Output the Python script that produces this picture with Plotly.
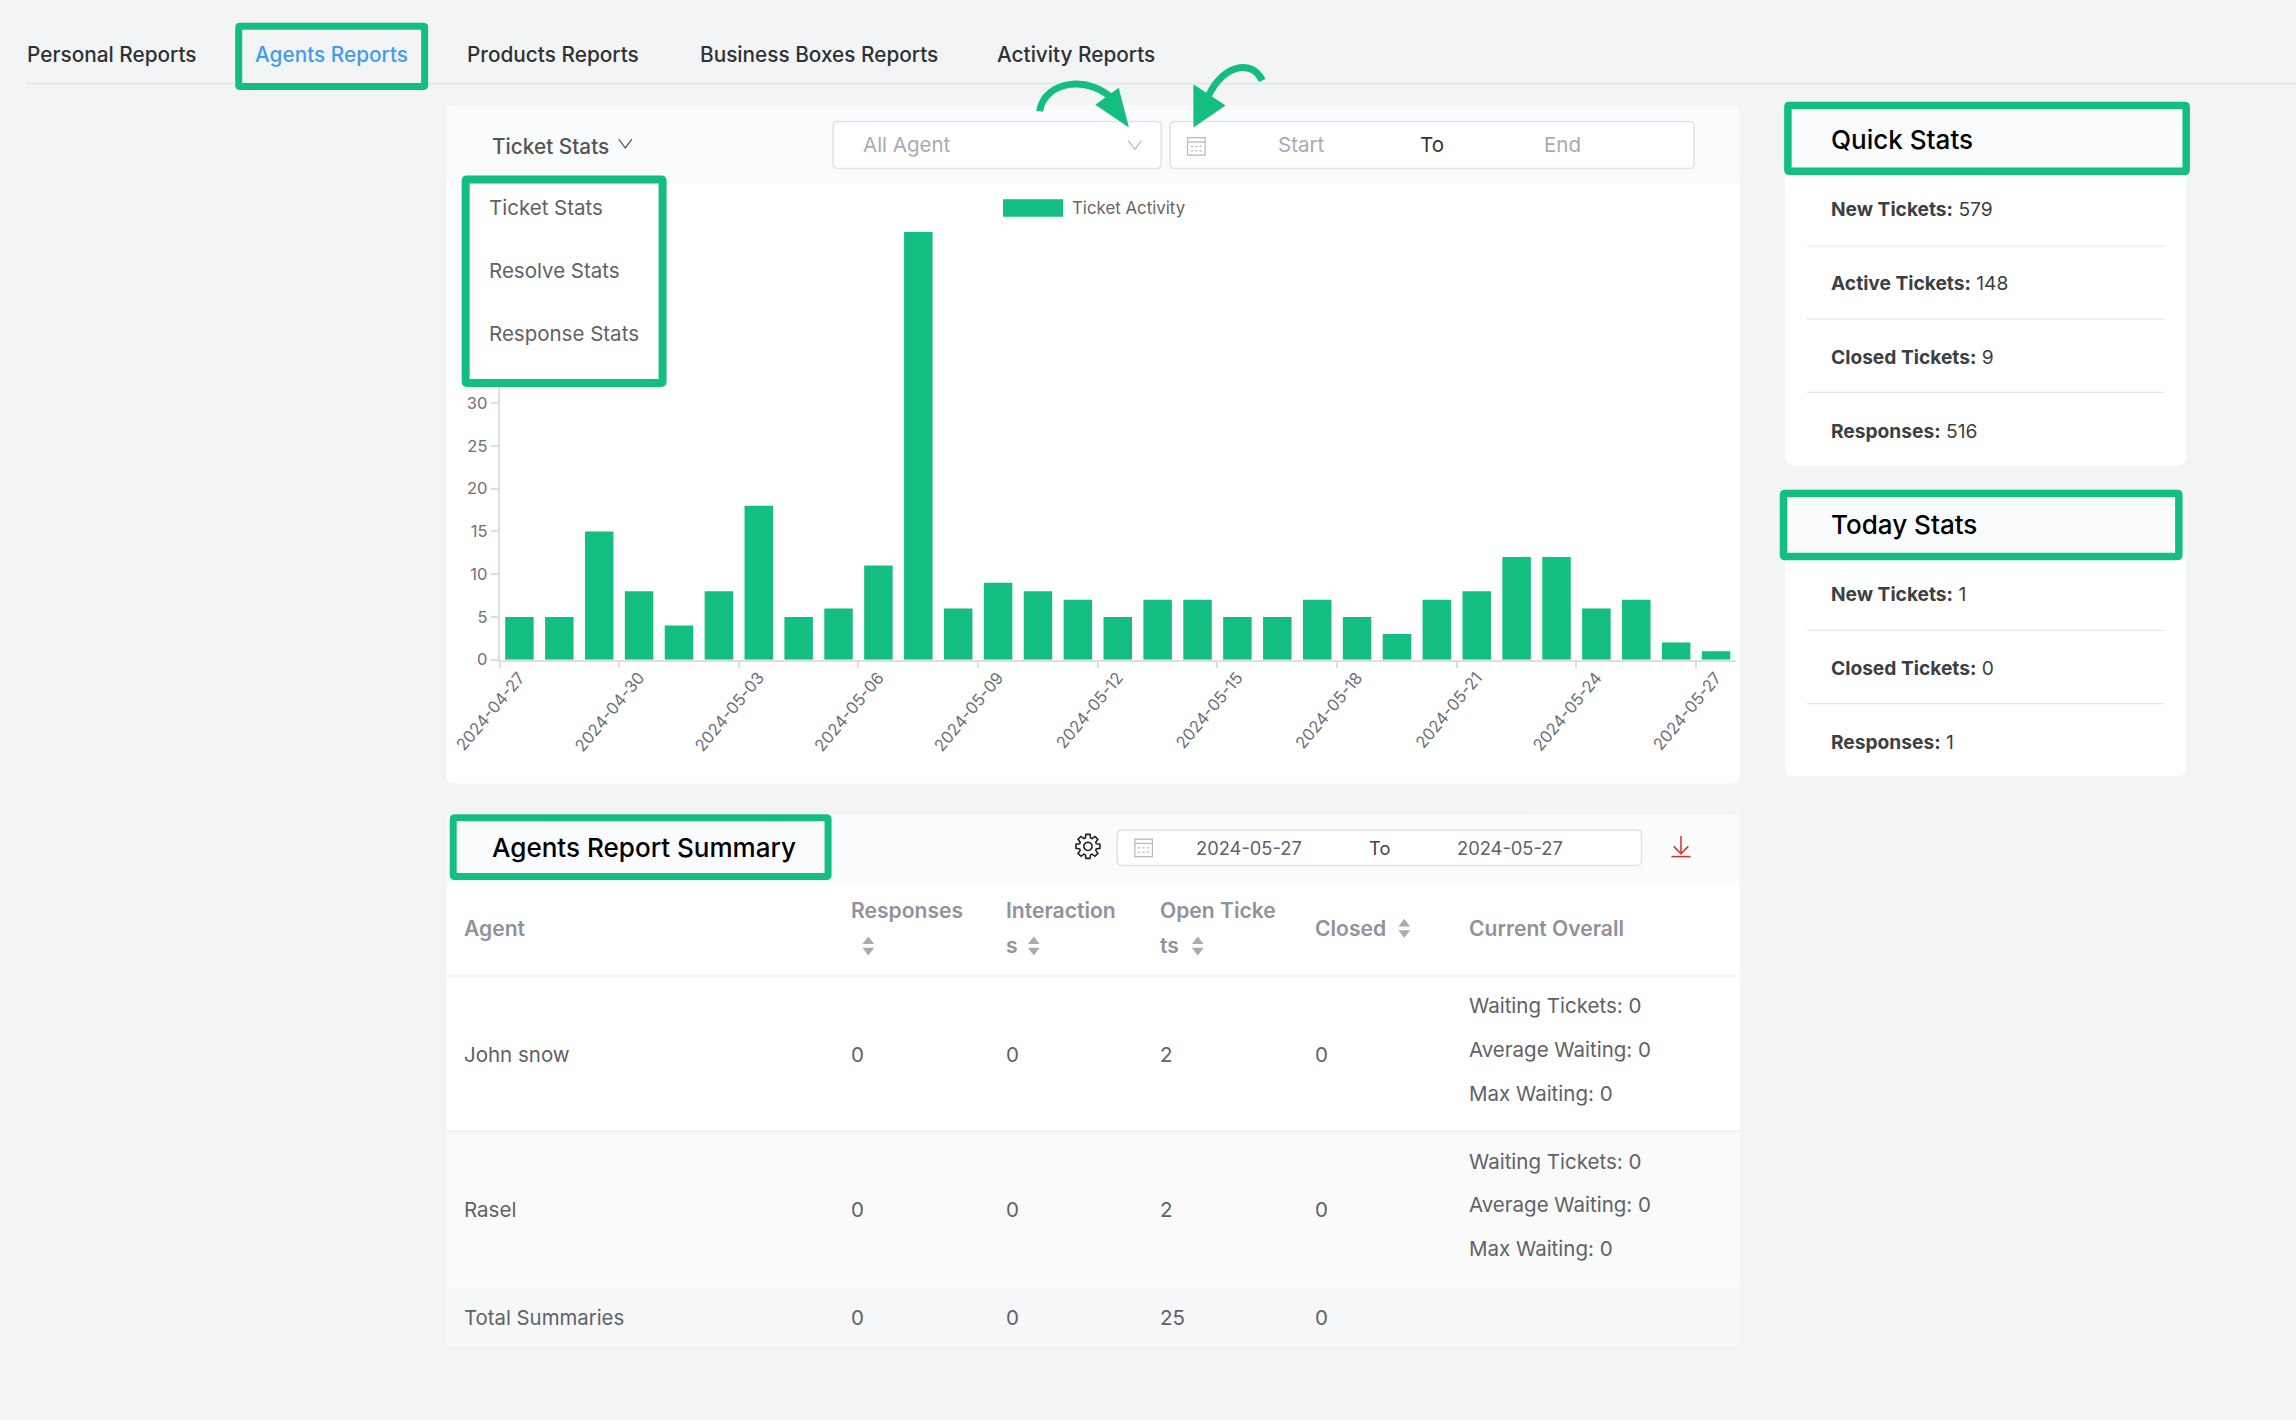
import math
import plotly.graph_objects as go

W, H = 2296, 1420
# layout below is measured on the 1568 wide view of the screenshot
S = W / 1568

GREEN = '#14bd80'
PAGE = '#f2f4f6'
HEAD = '#fafbfc'
TEXT = '#606266'
DARK = '#2f3133'
GREY = '#909399'
LINE = '#e6e8eb'
FONT = 'Inter'

# Data
dates = ['2024-04-27', '2024-04-28', '2024-04-29', '2024-04-30', '2024-05-01', '2024-05-02',
         '2024-05-03', '2024-05-04', '2024-05-05', '2024-05-06', '2024-05-07', '2024-05-08',
         '2024-05-09', '2024-05-10', '2024-05-11', '2024-05-12', '2024-05-13', '2024-05-14',
         '2024-05-15', '2024-05-16', '2024-05-17', '2024-05-18', '2024-05-19', '2024-05-20',
         '2024-05-21', '2024-05-22', '2024-05-23', '2024-05-24', '2024-05-25', '2024-05-26',
         '2024-05-27']
ticket_activity = [5, 5, 15, 8, 4, 8, 18, 5, 6, 11, 50, 6, 9, 8, 7, 5, 7, 7, 5, 5, 7, 5, 3, 7, 8,
                   12, 12, 6, 7, 2, 1]

tabs = ['Personal Reports', 'Agents Reports', 'Products Reports', 'Business Boxes Reports', 'Activity Reports']
stat_menu = ['Ticket Stats', 'Resolve Stats', 'Response Stats']
quick_labels = ['New Tickets:', 'Active Tickets:', 'Closed Tickets:', 'Responses:']
quick_values = [579, 148, 9, 516]
today_labels = ['New Tickets:', 'Closed Tickets:', 'Responses:']
today_values = [1, 0, 1]

agents = ['John snow', 'Rasel']
responses = [0, 0]
interactions = [0, 0]
open_tickets = [2, 2]
closed = [0, 0]
waiting = [0, 0]
average_waiting = [0, 0]
max_waiting = [0, 0]
totals = [0, 0, 25, 0]

shapes = []
annotations = []


def px(x):
    return x / 1568


def py(y):
    return 1 - y * S / H


def path(points, close=False):
    d = 'M' + ' L'.join(f'{px(x):.5f},{py(y):.5f}' for x, y in points)
    return d + (' Z' if close else '')


def box(x0, y0, x1, y1, fill=None, line=None, width=1, r=0, layer='below'):
    if r:
        rx, ry = r / 1568, r * S / H
        a, b, c, d = px(x0), py(y0), px(x1), py(y1)
        p = (f'M{a + rx},{b} L{c - rx},{b} Q{c},{b} {c},{b - ry} L{c},{d + ry} Q{c},{d} {c - rx},{d} '
             f'L{a + rx},{d} Q{a},{d} {a},{d + ry} L{a},{b - ry} Q{a},{b} {a + rx},{b} Z')
    else:
        p = path([(x0, y0), (x1, y0), (x1, y1), (x0, y1)], True)
    shapes.append(dict(type='path', xref='paper', yref='paper', path=p, layer=layer,
                       fillcolor=fill or 'rgba(0,0,0,0)',
                       line=dict(color=line or 'rgba(0,0,0,0)', width=width if line else 0)))


def stroke(points, color, width=1.5, layer='above'):
    shapes.append(dict(type='path', xref='paper', yref='paper', path=path(points), layer=layer,
                       line=dict(color=color, width=width)))


def curve(p0, c1, c2, p1, color, width):
    a, b, c, d = [f'{px(x):.5f},{py(y):.5f}' for x, y in (p0, c1, c2, p1)]
    shapes.append(dict(type='path', xref='paper', yref='paper', path=f'M{a} C{b} {c} {d}', layer='above',
                       line=dict(color=color, width=width)))


def solid(points, color):
    shapes.append(dict(type='path', xref='paper', yref='paper', path=path(points, True), layer='above',
                       fillcolor=color, line=dict(color=color, width=0)))


def label(x, y, text, size=13.5, color=TEXT, anchor='left', weight=400):
    # left aligned annotations sit a little to the right of the given x
    if anchor == 'left':
        x -= 0.5
    annotations.append(dict(xref='paper', yref='paper', x=px(x), y=py(y), text=text, showarrow=False,
                            xanchor=anchor, yanchor='middle', borderpad=0,
                            font=dict(family=FONT, size=size * S, color=color, weight=weight)))


def chevron(x, y, color='#b5b8bd', w=4.5, h=3):
    stroke([(x - w, y - h), (x, y + h), (x + w, y - h)], color, 1.2)


def calendar(x, y, color='#b5b8bd'):
    box(x - 6, y - 6, x + 6, y + 6, line=color, width=1.2, layer='above')
    stroke([(x - 6, y - 3), (x + 6, y - 3)], color, 1.2)
    for dx in (-3, 0, 3):
        stroke([(dx + x - 0.8, y), (dx + x + 0.8, y)], color, 1.2)
        stroke([(dx + x - 0.8, y + 3), (dx + x + 0.8, y + 3)], color, 1.2)


def sorter(x, y):
    solid([(x - 4, y - 1.3), (x + 4, y - 1.3), (x, y - 6.5)], '#a8abb2')
    solid([(x - 4, y + 1.3), (x + 4, y + 1.3), (x, y + 6.5)], '#a8abb2')


def gear(x, y):
    pts = []
    for i in range(8):
        a = i * math.pi / 4
        for da, r in ((-0.3, 6), (-0.17, 8.3), (0.17, 8.3), (0.3, 6)):
            pts.append((x + r * math.cos(a + da), y + r * math.sin(a + da)))
    pts.append(pts[0])
    stroke(pts, '#222222', 1.6)
    circle = [(x + 2.8 * math.cos(i * math.pi / 10), y + 2.8 * math.sin(i * math.pi / 10)) for i in range(21)]
    stroke(circle, '#222222', 1.6)


# Tabs
stroke([(18, 57), (1568, 57)], '#e3e5e8', 1.5, 'below')
for x, t in zip([18, 174, 319, 478, 681], tabs):
    label(x, 37, t, 14.2, '#3f9cf0' if t == 'Agents Reports' else DARK, weight=500)
box(163, 18, 290, 59, line=GREEN, width=7, r=1, layer='above')

# Chart card
box(305, 72, 1188, 535, fill='#ffffff', r=4)
box(305, 72, 1188, 126, fill=HEAD, r=4)
label(336, 100, 'Ticket Stats', 14.2, '#555555', weight=500)
chevron(427, 98, '#555555', 4.5, 3)
box(569, 83, 793, 115, fill='#ffffff', line='#e0e2e6', width=1.5, r=3)
label(589, 99, 'All Agent', 14, '#a8abb2')
chevron(775, 99)
box(799, 83, 1157, 115, fill='#ffffff', line='#e0e2e6', width=1.5, r=3)
calendar(817, 100)
label(889, 99, 'Start', 14, '#a8abb2', 'center')
label(978, 99, 'To', 14, '#333333', 'center')
label(1067, 99, 'End', 14, '#a8abb2', 'center')

# Legend of the chart
box(685, 136, 726, 148, fill=GREEN)
label(732, 142, 'Ticket Activity', 11.5, '#666666')

# Dropdown over the top of the y axis
box(318, 122.5, 452.5, 261.5, fill='#ffffff', line=GREEN, width=8, r=1, layer='above')
for y, t in zip([142, 185, 228], stat_menu):
    label(334, y, t, 14, TEXT)

# Arrows
curve((710, 76), (713, 55), (745, 50), (762, 70), GREEN, 7)
solid([(771, 87), (748, 71.5), (764, 60)], GREEN)
curve((862, 55), (855, 40), (835, 44), (825, 66), GREEN, 7)
solid([(815, 87), (815, 57.5), (837, 72)], GREEN)

# Summary card
box(305, 556, 1188, 919, fill='#ffffff', r=4)
box(305, 556, 1188, 603, fill=HEAD)
box(305, 773, 1188, 878, fill='#fafafa')
box(305, 879, 1188, 919, fill='#f6f7f9')
stroke([(305, 666.5), (1188, 666.5)], '#f2f3f5', 1.5, 'below')
stroke([(305, 772.5), (1188, 772.5)], '#f0f1f3', 1.5, 'below')
box(309.5, 558.5, 565.5, 598.5, line=GREEN, width=7, r=1, layer='above')
label(336, 579, 'Agents Report Summary', 17.8, '#000000', weight=500)
gear(743, 578)
box(763, 567, 1121, 591, fill='#ffffff', line='#e0e2e6', width=1.5, r=3)
calendar(781, 579)
label(853, 579, '2024-05-27', 12.5, TEXT, 'center')
label(942, 579, 'To', 12.5, '#444444', 'center')
label(1031, 579, '2024-05-27', 12.5, TEXT, 'center')
stroke([(1148, 571), (1148, 583)], '#d0312d', 1.5)
stroke([(1143, 578), (1148, 583), (1153, 578)], '#d0312d', 1.5)
stroke([(1141.5, 585), (1154.5, 585)], '#d0312d', 1.5)

col_x = [581, 687, 792, 898]
label(317, 634, 'Agent', 14.4, GREY, weight=600)
label(581, 622, 'Responses', 14.4, GREY, weight=600)
sorter(593, 646)
label(687, 622, 'Interaction', 14.4, GREY, weight=600)
label(687, 646, 's', 14.4, GREY, weight=600)
sorter(706, 646)
label(792, 622, 'Open Ticke', 14.4, GREY, weight=600)
label(792, 646, 'ts', 14.4, GREY, weight=600)
sorter(818, 646)
label(898, 634, 'Closed', 14.4, GREY, weight=600)
sorter(959, 634)
label(1003, 634, 'Current Overall', 14.4, GREY, weight=600)

row_y = [720, 826]
for i, name in enumerate(agents):
    y = row_y[i]
    label(317, y, name, 14)
    for x, col in zip(col_x, [responses, interactions, open_tickets, closed]):
        label(x, y, str(col[i]), 14)
    label(1003, y - 33, f'Waiting Tickets: {waiting[i]}', 14)
    label(1003, y - 3.5, f'Average Waiting: {average_waiting[i]}', 14)
    label(1003, y + 26.5, f'Max Waiting: {max_waiting[i]}', 14)
label(317, 900, 'Total Summaries', 13.9)
for x, v in zip(col_x, totals):
    label(x, 900, str(v), 14)

# Side cards
box(1219, 72, 1493, 318, fill='#ffffff', r=6)
box(1221, 72, 1493, 118, fill=HEAD)
box(1221, 72, 1493, 117, line=GREEN, width=7.5, r=1, layer='above')
label(1250, 95.5, 'Quick Stats', 17.8, '#000000', weight=500)
for y, l, v in zip([143, 193, 244, 294], quick_labels, quick_values):
    label(1250, y, f'<b>{l}</b> {v}', 13.1, '#3c3f43')
for y in [168, 218, 268]:
    stroke([(1234, y), (1478, y)], LINE, 1.2, 'below')

box(1219, 335, 1493, 530, fill='#ffffff', r=6)
box(1218, 337, 1488, 380, fill=HEAD, line=GREEN, width=7.5, r=1, layer='above')
label(1250, 358, 'Today Stats', 17.8, '#000000', weight=500)
for y, l, v in zip([406, 456, 507], today_labels, today_values):
    label(1250, y, f'<b>{l}</b> {v}', 13.1, '#3c3f43')
for y in [430.5, 480.5]:
    stroke([(1234, y), (1478, y)], LINE, 1.2, 'below')

fig = go.Figure()
fig.add_trace(go.Bar(x=dates, y=ticket_activity, name='Ticket Activity', marker=dict(color=GREEN, line=dict(width=0))))

fig.update_layout(
    width=W, height=H,
    autosize=False,
    margin=dict(l=0, r=0, t=0, b=0, pad=0),
    paper_bgcolor=PAGE,
    plot_bgcolor='rgba(0,0,0,0)',
    showlegend=False,
    bargap=0.286,
    shapes=shapes,
    annotations=annotations,
    font=dict(family=FONT, color='#6e7079', size=17),
)
fig.update_xaxes(
    domain=[499.5 / W, 1736 / W],
    automargin=False,
    type='category', categoryorder='array', categoryarray=dates,
    range=[-0.5, 30.5],
    tickmode='linear', tick0=0, dtick=3,
    tickson='boundaries', ticks='outside', ticklen=7, tickcolor='#dcdee1', tickwidth=1.5,
    tickangle=-50, tickfont=dict(size=16.5, color='#6e7079'),
    showgrid=False, zeroline=False,
    showline=True, linecolor='#dcdee1', linewidth=1.5,
)
fig.update_yaxes(
    domain=[1 - 659.7 / H, 1 - 232 / H],
    automargin=False,
    range=[0, 50],
    tickmode='linear', tick0=0, dtick=5,
    ticks='outside', ticklen=7, tickcolor='#dcdee1', tickwidth=1.5,
    tickfont=dict(size=16.5, color='#6e7079'),
    showgrid=False, zeroline=False,
    showline=True, linecolor='#dcdee1', linewidth=1.5,
)

# page body has a default margin, the screenshot is edge to edge
fig.write_html("out.html", config={'displayModeBar': False}, post_script="document.body.style.margin='0';")
